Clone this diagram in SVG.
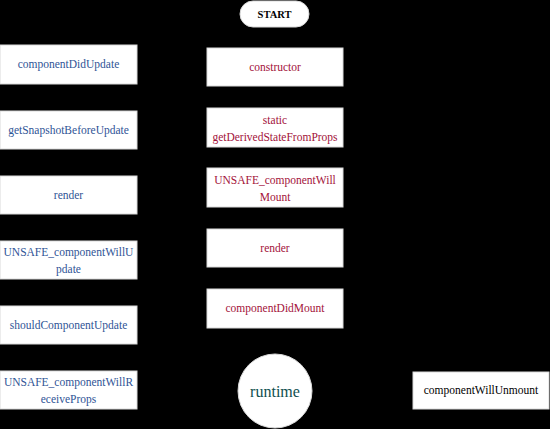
<svg xmlns="http://www.w3.org/2000/svg" width="550" height="429" viewBox="0 0 550 429">
<style>
.bg{fill:#000}
.box{fill:#fff;stroke:#d9d9d9;stroke-width:1}
text{font-family:'Liberation Serif','Times New Roman','DejaVu Serif',serif;font-size:11.5px;text-anchor:middle}
.upd{fill:#2f5496}
.mnt{fill:#a3123a}
.rt{fill:#0f4f4f;font-size:16px}
.um{fill:#000}
.st{fill:#000;font-weight:bold;font-size:10.5px}
</style>
<rect class="bg" x="0" y="0" width="550" height="429"/>
<g id="connectors"></g>
<g id="start"><rect class="box" x="240" y="1" width="69" height="26" rx="13"/><text class="st" x="274.5" y="18">START</text></g>
<g id="constructor"><rect class="box" x="207" y="48" width="136" height="38"/><text class="mnt" x="275" y="71">constructor</text></g>
<g id="getDerivedStateFromProps"><rect class="box" x="207" y="108" width="136" height="39"/><text class="mnt" x="275" y="124">static</text><text class="mnt" x="275" y="141">getDerivedStateFromProps</text></g>
<g id="unsafeWillMount"><rect class="box" x="207" y="168" width="136" height="39"/><text class="mnt" x="275" y="184">UNSAFE_componentWill</text><text class="mnt" x="275" y="201">Mount</text></g>
<g id="renderMount"><rect class="box" x="207" y="229" width="136" height="38"/><text class="mnt" x="275" y="252">render</text></g>
<g id="componentDidMount"><rect class="box" x="207" y="289" width="136" height="39"/><text class="mnt" x="275" y="312">componentDidMount</text></g>
<g id="runtime"><circle class="box" cx="275" cy="391" r="37"/><text class="rt" x="275" y="397">runtime</text></g>
<g id="componentWillUnmount"><rect class="box" x="413" y="372" width="136" height="37"/><text class="um" x="481" y="394">componentWillUnmount</text></g>
<g id="componentDidUpdate"><rect class="box" x="0" y="45" width="137" height="39"/><text class="upd" x="68.5" y="68">componentDidUpdate</text></g>
<g id="getSnapshotBeforeUpdate"><rect class="box" x="0" y="111" width="137" height="38"/><text class="upd" x="68.5" y="134">getSnapshotBeforeUpdate</text></g>
<g id="renderUpdate"><rect class="box" x="0" y="176" width="137" height="38"/><text class="upd" x="68.5" y="199">render</text></g>
<g id="unsafeWillUpdate"><rect class="box" x="0" y="241" width="137" height="38"/><text class="upd" x="68.5" y="256">UNSAFE_componentWillU</text><text class="upd" x="68.5" y="273">pdate</text></g>
<g id="shouldComponentUpdate"><rect class="box" x="0" y="306" width="137" height="38"/><text class="upd" x="68.5" y="329">shouldComponentUpdate</text></g>
<g id="unsafeWillReceiveProps"><rect class="box" x="0" y="371" width="137" height="38"/><text class="upd" x="68.5" y="386">UNSAFE_componentWillR</text><text class="upd" x="68.5" y="403">eceiveProps</text></g>
</svg>
